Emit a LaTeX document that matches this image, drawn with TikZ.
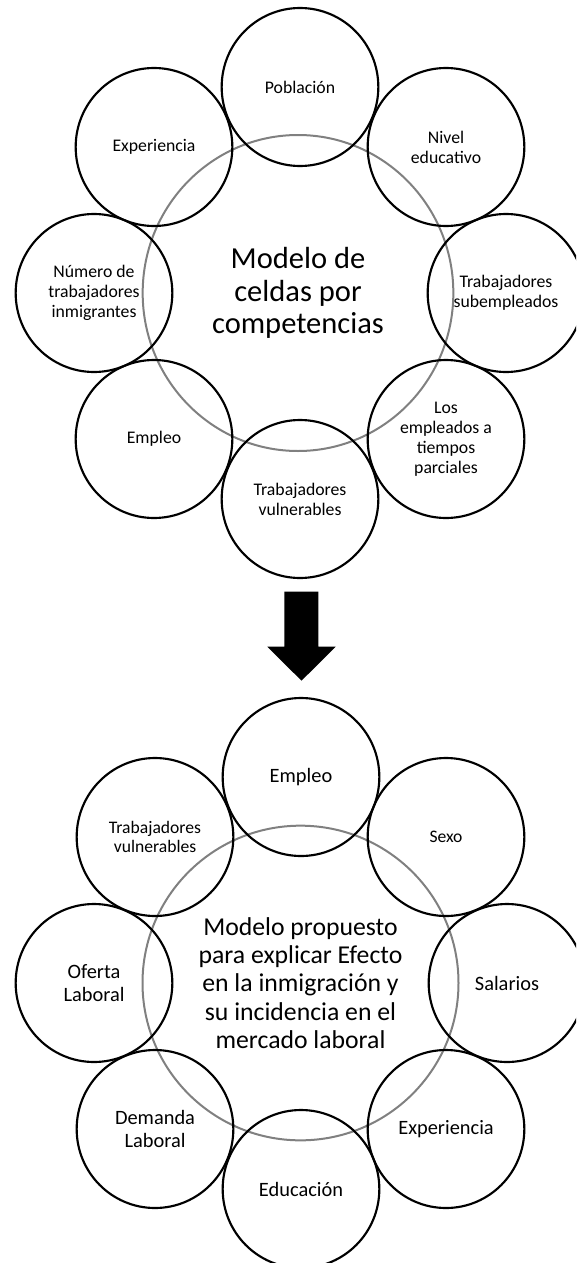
\documentclass[tikz,border=0pt]{standalone}
\usepackage{fontspec}
\setmainfont{Carlito}
\usetikzlibrary{shapes.geometric}
\definecolor{ringgray}{RGB}{128,128,128}
\begin{document}
\begin{tikzpicture}[x=0.75pt,y=-0.75pt,
  cell/.style={draw=black, line width=1.6pt, ellipse, inner sep=0pt, align=center,
    minimum width=117.5pt, minimum height=118.5pt},
  topcell/.style={cell, font=\fontsize{13.3pt}{15.1pt}\selectfont},
  botcell/.style={cell, font=\fontsize{15.3pt}{17pt}\selectfont},
  botsmall/.style={cell, font=\fontsize{13.2pt}{14.3pt}\selectfont},
  ring/.style={draw=ringgray, line width=1.5pt, ellipse, inner sep=0pt, align=center},
  arrowshape/.style={fill=black}
]
\useasboundingbox (0,0) rectangle (576,1263);
\clip (0,0) rectangle (576,1263);

% ---------- top diagram ----------
\node[ring, minimum width=233pt, minimum height=237pt,
  font=\fontsize{22.9pt}{24.4pt}\selectfont] (c1) at (298,293)
  {Modelo de\\celdas por\\competencias};

\node[topcell] (t1) at (300,87)  {Población};
\node[topcell] (t2) at (446,147) {Nivel\\educativo};
\node[topcell] (t3) at (506,293) {Trabajadores\\subempleados};
\node[topcell] (t4) at (446,439) {Los\\empleados a\\tiempos\\parciales};
\node[topcell] (t5) at (300,499) {Trabajadores\\vulnerables};
\node[topcell] (t6) at (154,439) {Empleo};
\node[topcell] (t7) at (94,293)  {Número de\\trabajadores\\inmigrantes};
\node[topcell] (t8) at (154,147) {Experiencia};

% ---------- arrow ----------
\fill[arrowshape] (284.3,591.7) -- (318.3,591.7) -- (318.3,646.7) -- (335.7,646.7)
  -- (301.5,680.7) -- (267.3,646.7) -- (284.3,646.7) -- cycle;

% ---------- bottom diagram ----------
\node[ring, minimum width=237pt, minimum height=236pt,
  font=\fontsize{19.3pt}{21.2pt}\selectfont] (c2) at (300.5,983)
  {Modelo propuesto\\para explicar Efecto\\en la inmigración y\\su incidencia en el\\mercado laboral};

\node[botcell]  (b1) at (301,777)  {Empleo};
\node[botsmall] (b2) at (446,837)  {Sexo};
\node[botcell]  (b3) at (507,983)  {Salarios};
\node[botcell]  (b4) at (446,1129) {Experiencia};
\node[botcell]  (b5) at (301,1189) {Educación};
\node[botcell]  (b6) at (155,1129) {Demanda\\Laboral};
\node[botcell]  (b7) at (94,983)   {Oferta\\Laboral};
\node[botsmall] (b8) at (155,837)  {Trabajadores\\vulnerables};
\end{tikzpicture}
\end{document}
